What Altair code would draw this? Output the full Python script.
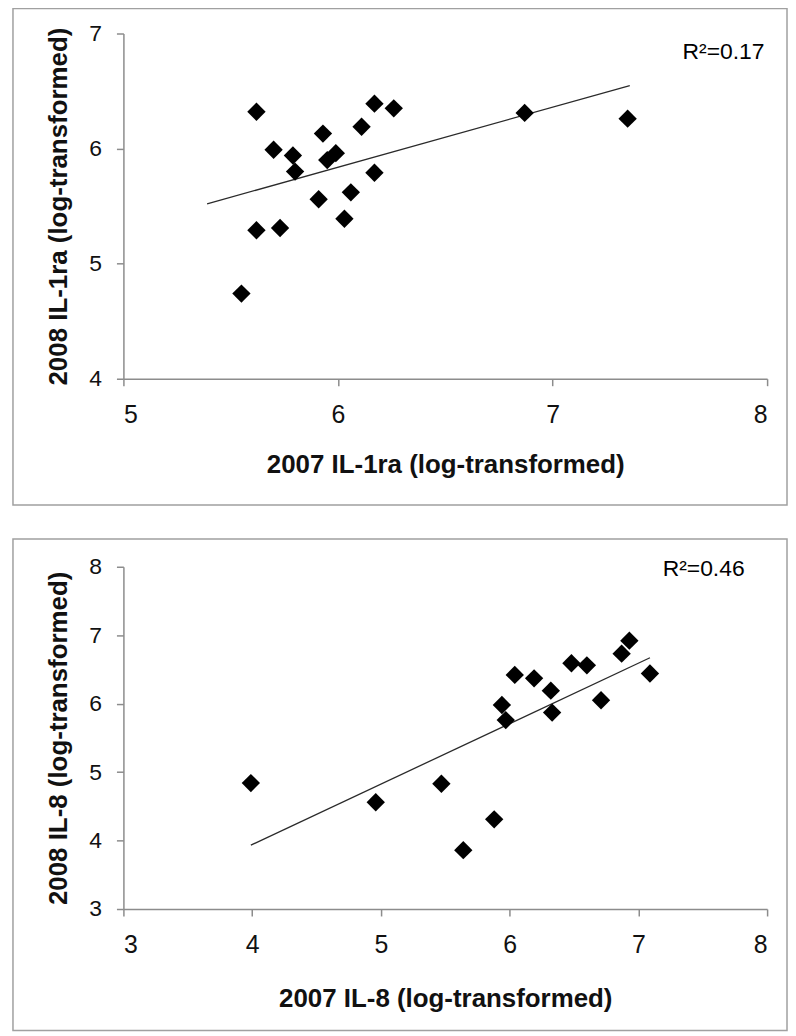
import altair as alt
import pandas as pd

# ---- data ----
il1ra_2007 = [5.62, 5.70, 5.79, 5.80, 5.93, 5.95, 5.99, 5.91, 6.06, 6.03,
              5.62, 5.73, 6.11, 6.17, 6.17, 6.26, 5.55, 6.87, 7.35]
il1ra_2008 = [6.32, 5.99, 5.94, 5.80, 6.13, 5.90, 5.96, 5.56, 5.62, 5.39,
              5.29, 5.31, 6.19, 6.39, 5.79, 6.35, 4.74, 6.31, 6.26]

il8_2007 = [3.99, 4.96, 5.47, 5.64, 5.88, 5.94, 5.97, 6.04, 6.19, 6.32,
            6.33, 6.48, 6.60, 6.71, 6.87, 6.93, 7.09]
il8_2008 = [4.84, 4.56, 4.83, 3.86, 4.31, 5.98, 5.76, 6.42, 6.37, 6.19,
            5.87, 6.59, 6.56, 6.05, 6.73, 6.92, 6.44]

top_x_ticks = [5, 6, 7, 8]
top_y_ticks = [4, 5, 6, 7]
bot_x_ticks = [3, 4, 5, 6, 7, 8]
bot_y_ticks = [3, 4, 5, 6, 7, 8]

top_trend_extent = [5.39, 7.36]
bot_trend_extent = [3.99, 7.09]

top_r2 = "R\u00b2=0.17"
bot_r2 = "R\u00b2=0.46"

FONT = "Liberation Sans"
W = 647


def panel(xs, ys, xticks, yticks, xtitle, ytitle, r2, r2pos, extent, height,
          border_y, border_y2, xtitle_pad):
    df = pd.DataFrame({"x": xs, "y": ys})
    base = alt.Chart(df)
    x_enc = alt.X(
        "x:Q",
        scale=alt.Scale(domain=[xticks[0], xticks[-1]], nice=False, zero=False),
        axis=alt.Axis(values=xticks, title=xtitle, labelPadding=17,
                      labelFontSize=25, titlePadding=xtitle_pad, format="d"),
    )
    y_enc = alt.Y(
        "y:Q",
        scale=alt.Scale(domain=[yticks[0], yticks[-1]], nice=False, zero=False),
        axis=alt.Axis(values=yticks, title=ytitle, labelPadding=15,
                      labelFontSize=23, titlePadding=17, format="d"),
    )
    points = base.mark_point(
        shape="diamond", filled=True, color="black", size=340, opacity=1
    ).encode(x=x_enc, y=y_enc)
    trend = base.transform_regression(
        "x", "y", extent=extent
    ).mark_line(color="#2a2a2a", strokeWidth=1.3).encode(x="x:Q", y="y:Q")
    label = alt.Chart(pd.DataFrame({"t": [r2]})).mark_text(
        font=FONT, fontSize=23, color="black", align="left", baseline="alphabetic"
    ).encode(x=alt.value(r2pos[0]), y=alt.value(r2pos[1]), text="t:N")
    border = alt.Chart(pd.DataFrame({"b": [0]})).mark_rect(
        filled=False, stroke="#a0a0a0", strokeWidth=1.5
    ).encode(
        x=alt.value(-111), x2=alt.value(W + 20),
        y=alt.value(border_y), y2=alt.value(border_y2),
    )
    return alt.layer(border, trend, points, label).properties(width=W, height=height)


top = panel(il1ra_2007, il1ra_2008, top_x_ticks, top_y_ticks,
            "2007 IL-1ra (log-transformed)", "2008 IL-1ra (log-transformed)",
            top_r2, (562, 26), top_trend_extent, 347, -25, 474, 24)
bottom = panel(il8_2007, il8_2008, bot_x_ticks, bot_y_ticks,
               "2007 IL-8 (log-transformed)", "2008 IL-8 (log-transformed)",
               bot_r2, (542, 9), bot_trend_extent, 344, -28, 466, 28)

chart = alt.vconcat(top, bottom, spacing=32).properties(
    padding={"left": 4, "top": -3, "right": 0, "bottom": 0},
    background="white",
).configure_view(stroke=None).configure_axis(
    grid=False,
    domainColor="#8c8c8c",
    domainWidth=1.5,
    tickColor="#8c8c8c",
    tickWidth=1.5,
    tickSize=7,
    labelFont=FONT,
    labelColor="#111111",
    titleFont=FONT,
    titleFontSize=26,
    titleFontWeight="bold",
    titleColor="#111111",
)

chart.save("out.html", embed_options={"renderer": "svg", "actions": False})
